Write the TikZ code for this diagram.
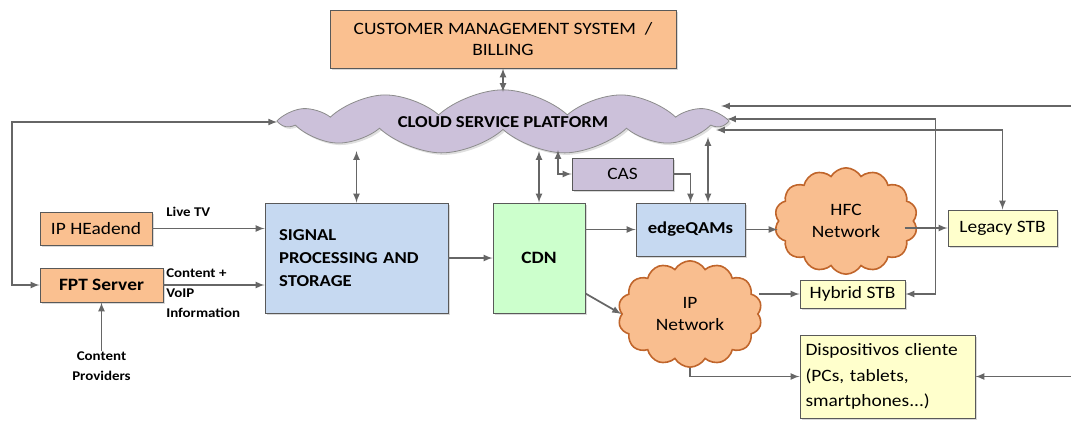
\documentclass[tikz,border=0pt]{standalone}
\usepackage{fontspec}
\setmainfont{Carlito}[FakeStretch=1.12]
\usepackage{tikz}
\usetikzlibrary{positioning}
\usetikzlibrary{shapes.symbols}
\usetikzlibrary{shadows}
\usetikzlibrary{calc}
\usepackage{xcolor}

\definecolor{boxorange}{HTML}{FAC090}
\definecolor{boxpurple}{HTML}{CCC1DA}
\definecolor{boxblue}{HTML}{C6D9F1}
\definecolor{boxgreen}{HTML}{CCFFCC}
\definecolor{boxyellow}{HTML}{FFFFCC}
\definecolor{netorange}{HTML}{F9BE8F}
\definecolor{netborder}{HTML}{C0652B}
\definecolor{linegray}{HTML}{666666}

\begin{document}
\begin{tikzpicture}[x=0.75pt, y=-0.75pt, >=latex,
  box/.style={draw=black!65, line width=0.7pt, inner sep=2pt, align=center,
    font=\fontsize{13}{16}\selectfont,
    drop shadow={opacity=0.3, shadow xshift=1.5pt, shadow yshift=-1.5pt}},
  orangebox/.style={box, fill=boxorange},
  purplebox/.style={box, fill=boxpurple},
  bluebox/.style={box, fill=boxblue},
  greenbox/.style={box, fill=boxgreen},
  yellowbox/.style={box, fill=boxyellow},
  net/.style={cloud, cloud puffs=14, cloud puff arc=120, draw=netborder,
    line width=1.2pt, fill=netorange, inner sep=0pt, align=center,
    font=\fontsize{13}{16}\selectfont},
  small/.style={font=\bfseries\fontsize{10}{15}\selectfont, inner sep=0pt},
  link/.style={draw=linegray, line width=1.3pt, ->},
  dbl/.style={link, <->},
]

\useasboundingbox (0,0) rectangle (1071,421);

% nodes
{
\node[orangebox, minimum width=259.5pt, minimum height=43.5pt]
  (cms) at (503,39) {CUSTOMER MANAGEMENT SYSTEM\ \ /\\BILLING};

\node[cloud, cloud puffs=11, cloud puff arc=85, aspect=9, draw=black!45, line width=0.6pt,
  fill=boxpurple, inner sep=0pt, minimum width=330pt, minimum height=35pt,
  font=\bfseries\fontsize{12.5}{15}\selectfont,
  drop shadow={opacity=0.25, shadow xshift=1.5pt, shadow yshift=-1.5pt}]
  (csp) at (503,122) {CLOUD SERVICE PLATFORM};

\node[orangebox, minimum width=84pt, minimum height=24.75pt] (iph) at (96,228.5) {IP HEadend};
\node[orangebox, minimum width=92.25pt, minimum height=25.5pt, font=\bfseries\fontsize{13}{16}\selectfont]
  (fpt) at (101.5,285) {FPT Server};

\node[bluebox, minimum width=137.25pt, minimum height=82.5pt, text width=116pt, align=left,
  font=\bfseries\fontsize{12.5}{17.5}\selectfont]
  (sps) at (356.5,258) {SIGNAL\\PROCESSING AND\\STORAGE};

\node[greenbox, minimum width=69pt, minimum height=82.5pt, font=\bfseries\fontsize{13}{16}\selectfont]
  (cdn) at (539,258) {CDN};

\node[purplebox, minimum width=75.75pt, minimum height=24pt] (cas) at (622.5,174) {CAS};

\node[bluebox, minimum width=81.75pt, minimum height=39.75pt, font=\bfseries\fontsize{12.5}{16}\selectfont]
  (eqam) at (690.5,229.5) {edgeQAMs};

\node[net, minimum width=107.25pt, minimum height=69.75pt] (hfc) at (846,221) {HFC\\Network};
\node[net, minimum width=108pt, minimum height=73.5pt] (ipn) at (690,314) {IP\\Network};

\node[yellowbox, minimum width=81.75pt, minimum height=27pt] (lstb) at (1002.5,228) {Legacy STB};
\node[yellowbox, minimum width=78.75pt, minimum height=21pt] (hstb) at (852.5,294) {Hybrid STB};
\node[yellowbox, minimum width=131.25pt, minimum height=62.25pt, text width=123pt, align=left,
  font=\fontsize{13}{19}\selectfont]
  (disp) at (887.5,376.5) {Dispositivos cliente\\(PCs, tablets,\\smartphones...)};

\node[small, align=center] (cont) at (101.5,366) {Content\\Providers};
\node[small, anchor=south west] (live) at (166,217) {Live TV};
\node[small, anchor=west, align=left] (info) at (166,293) {Content +\\VoIP\\Information};
}

% points on the cloud edge
\coordinate (lft) at (12,122);
\coordinate (ct) at (503,92);
\coordinate (cb) at (0,151);
\coordinate (casup) at (558,150);
\coordinate (q1) at (708,137);
\coordinate (l1) at (716,130);
\coordinate (h1) at (727,119);
\coordinate (r1) at (721,106);
\coordinate (rx) at (1090,106);

%lines
{
\draw[dbl] (cms.south) -- (ct);
\draw[dbl] (csp.west) -- (lft) |- (fpt.west);

\draw[link] (iph.east) -- (sps.west |- iph.east);
\draw[link] (fpt.east) -- (sps.west |- fpt.east);
\draw[link] (cont.north) -- (fpt.south);

\draw[dbl] (sps.north) -- (sps.north |- cb);
\draw[link] (sps.east) -- (cdn.west);
\draw[dbl] (cdn.north) -- (cdn.north |- cb);

\draw[dbl] (casup) |- (cas.west);
\draw[link] (cas.east) -| (eqam.north);
\draw[dbl] (q1) -- (q1 |- eqam.north);

\draw[link] (cdn.east |- eqam.west) -- (eqam.west);
\draw[link] (eqam.east) -- (eqam.east -| hfc.west);
\draw[link] ($(lstb.west)+(-43,0)$) -- (lstb.west);

\draw[dbl] (l1) -| (lstb.north);
\draw[dbl] (h1) -| ($(hstb.east)+(30,0)$) -- (hstb.east);
\draw[dbl] (r1) -- (rx) |- (disp.east);

\draw[link] ($(cdn.south east)+(0,-20)$) -- (ipn.west);
\draw[link] (hstb.west -| ipn.east) -- (hstb.west);
\draw[link] (ipn.south) |- (disp.west);
}

\end{tikzpicture}
\end{document}
